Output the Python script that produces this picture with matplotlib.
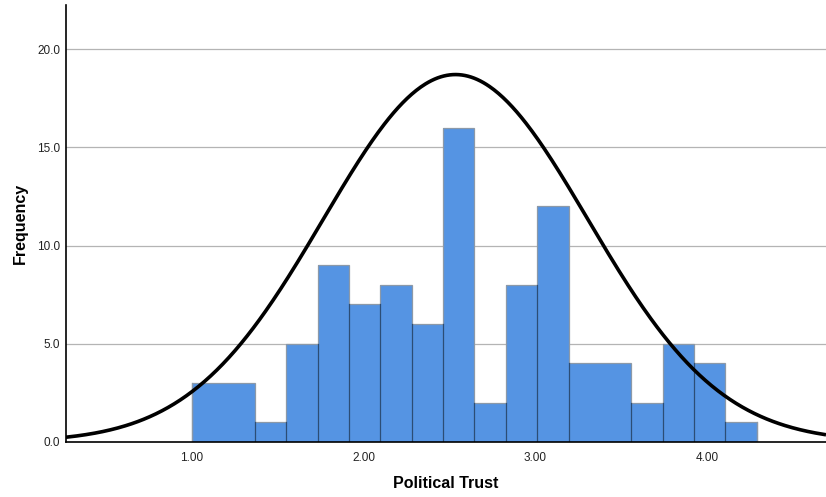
import numpy as np
import matplotlib
matplotlib.use('Agg')
import matplotlib.pyplot as plt

plt.rcParams['font.family'] = ['Liberation Sans', 'DejaVu Sans']

# histogram bins (equal width, 1.00 .. 4.29) and their counts
bin_start = 1.0
bin_end = 4.29
counts = [3, 3, 1, 5, 9, 7, 8, 6, 16, 2, 8, 12, 4, 4, 2, 5, 4, 1]

# fitted normal curve
curve_mean = 2.535
curve_sd = 0.77
curve_peak = 18.7

x_ticks = [1.0, 2.0, 3.0, 4.0]
y_ticks = [0.0, 5.0, 10.0, 15.0, 20.0]

bar_color = '#5594e3'
outline_color = '#8c99a8'
inner_edge_color = '#2c4d75'

edges = np.linspace(bin_start, bin_end, len(counts) + 1)
width = edges[1] - edges[0]

fig = plt.figure(figsize=(8.26, 4.97), dpi=100)
ax = fig.add_axes([66 / 826, 1 - 442 / 497, 1 - 66 / 826, (442 - 5) / 497])

ax.set_xlim(0.266, 4.693)
ax.set_ylim(0, 22.24)

for y in y_ticks[1:]:
    ax.axhline(y, color='#b4b4b4', lw=0.9, zorder=0)

ax.bar(edges[:-1], counts, width=width, align='edge', color=bar_color,
       linewidth=0, zorder=2)

# outer contour of the bars
ax.stairs(counts, edges, color=outline_color, lw=0.9, zorder=3)
ax.plot([edges[0], edges[0]], [0, counts[0]], color=outline_color, lw=0.9, zorder=3)
ax.plot([edges[-1], edges[-1]], [0, counts[-1]], color=outline_color, lw=0.9, zorder=3)
# dividers between neighbouring bars of different height
for i in range(len(counts) - 1):
    if counts[i] != counts[i + 1]:
        h = min(counts[i], counts[i + 1])
        ax.plot([edges[i + 1], edges[i + 1]], [0, h], color=inner_edge_color,
                lw=0.9, zorder=3)

xs = np.linspace(0.266, 4.693, 500)
ys = curve_peak * np.exp(-0.5 * ((xs - curve_mean) / curve_sd) ** 2)
ax.plot(xs, ys, color='black', lw=2.6, zorder=4, solid_capstyle='butt')

ax.set_xticks(x_ticks)
ax.set_xticklabels(['%.2f' % v for v in x_ticks])
ax.set_yticks(y_ticks)
ax.set_yticklabels(['%.1f' % v for v in y_ticks])
ax.tick_params(axis='both', length=0, labelsize=8.5, colors='#222222')
ax.tick_params(axis='x', pad=7)
ax.tick_params(axis='y', pad=4)

for side in ['top', 'right']:
    ax.spines[side].set_visible(False)
ax.spines['left'].set_linewidth(1.2)
ax.spines['bottom'].set_linewidth(1.2)
ax.spines['left'].set_zorder(5)
ax.spines['bottom'].set_zorder(5)

ax.set_xlabel('Political Trust', fontsize=11.5, fontweight='bold', labelpad=9)
ax.set_ylabel('Frequency', fontsize=11.5, fontweight='bold', labelpad=7)

fig.savefig('out.png', dpi=100)
